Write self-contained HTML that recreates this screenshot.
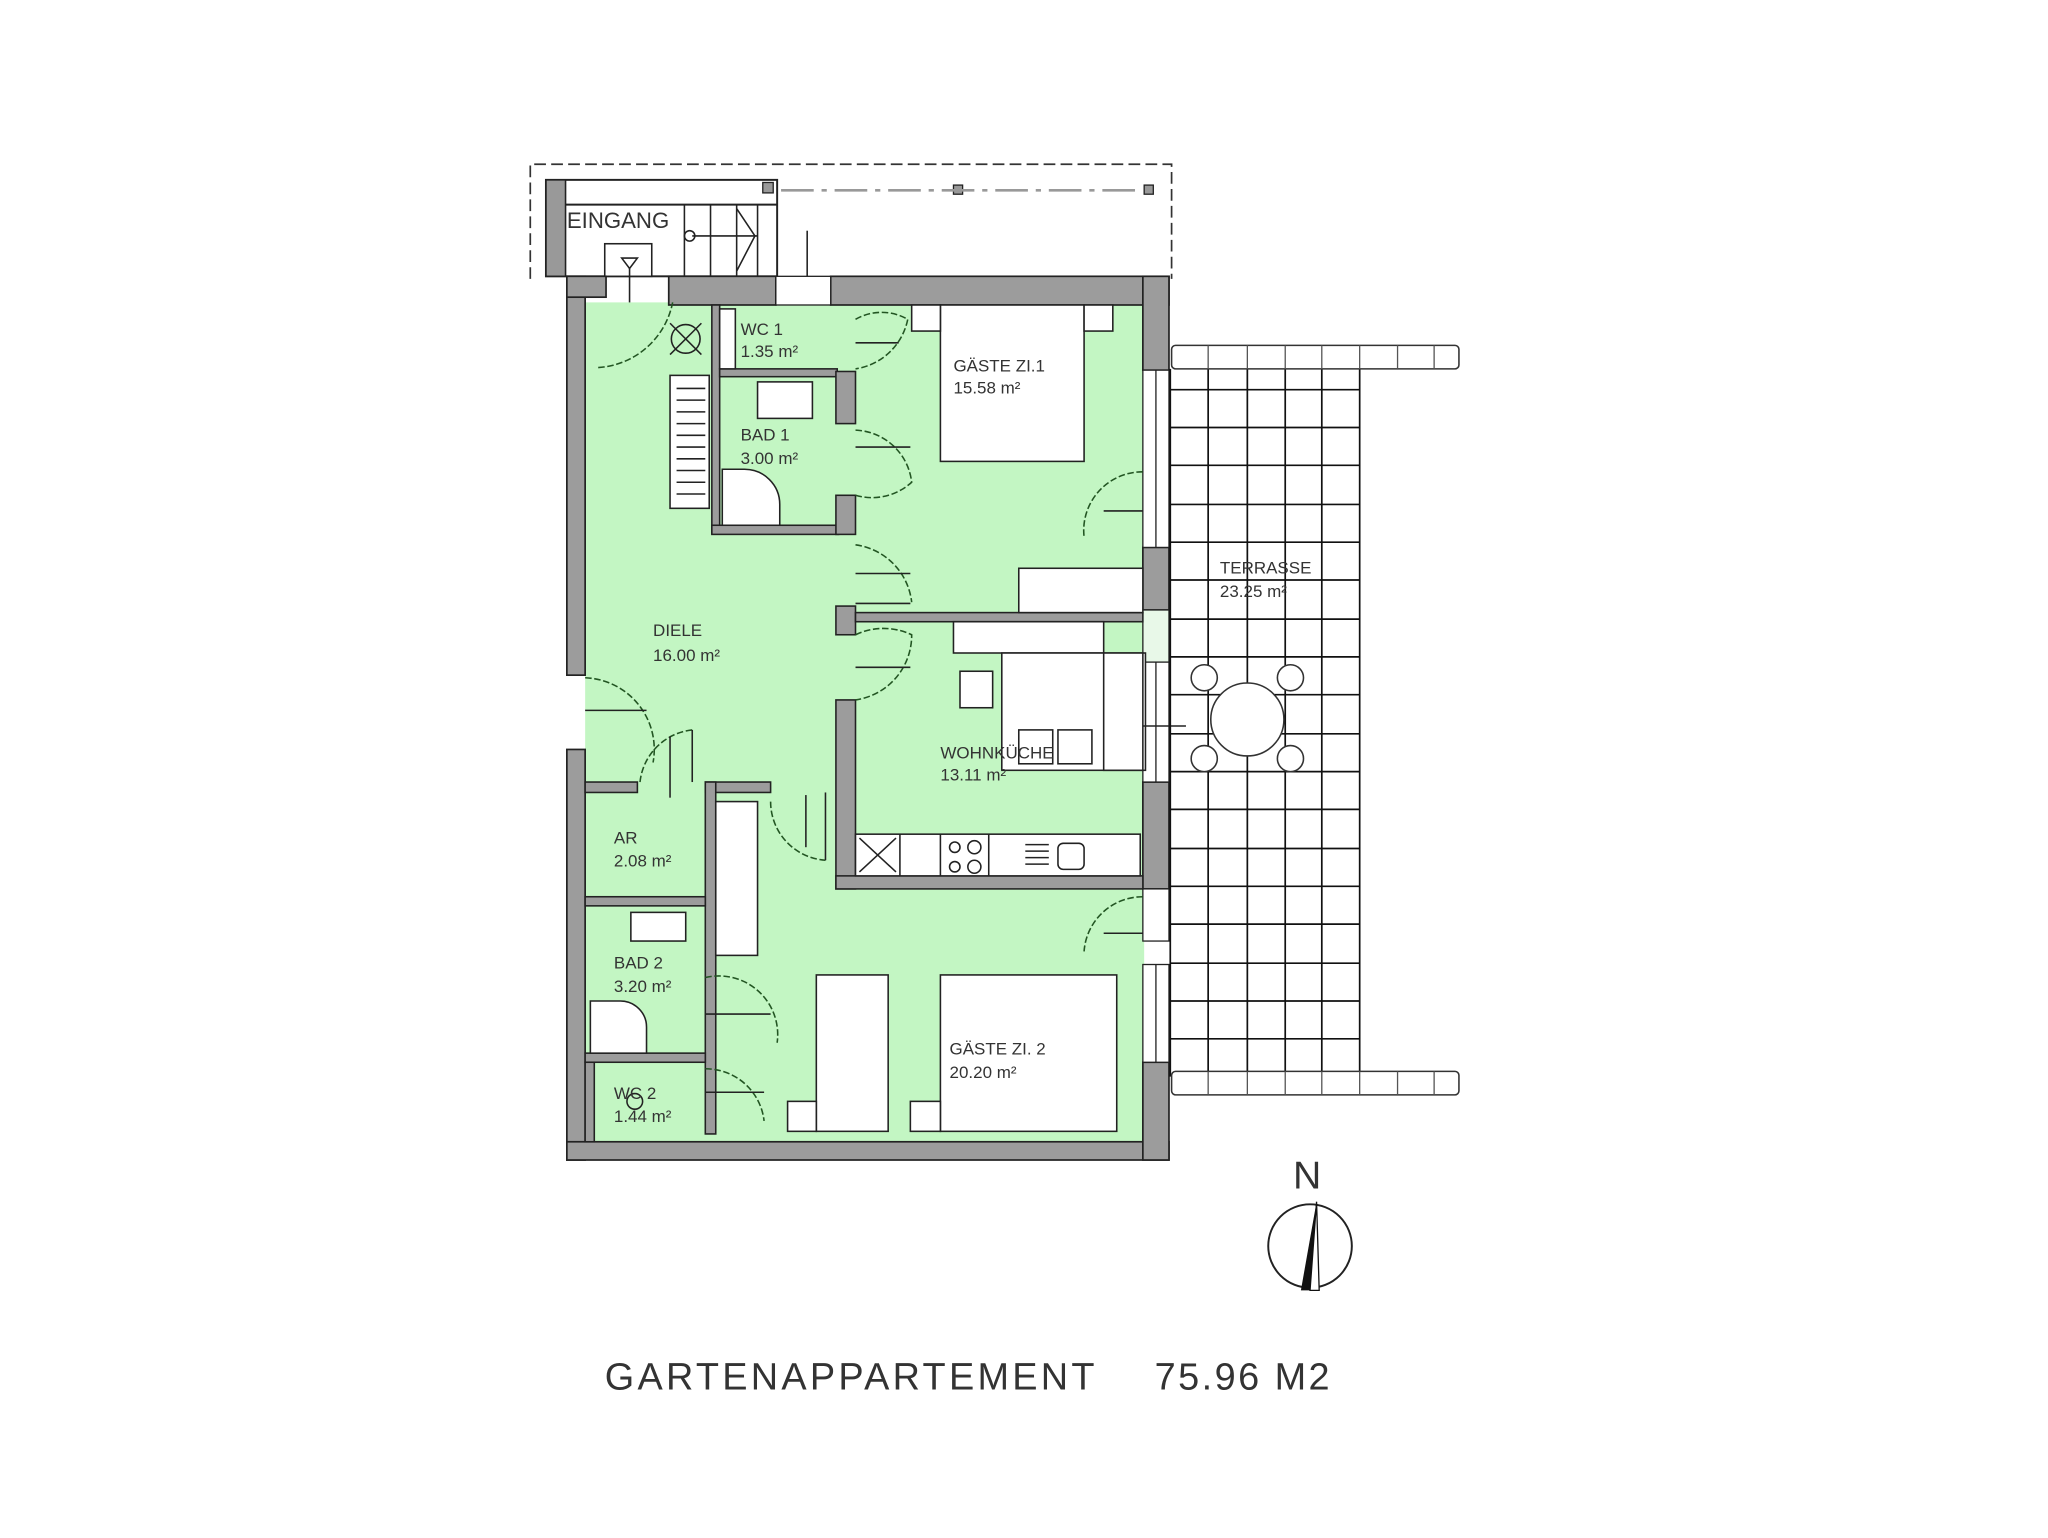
<!DOCTYPE html>
<html><head><meta charset="utf-8"><style>
html,body{margin:0;padding:0;background:#fff;}
svg{display:block;}
text{font-family:"Liberation Sans",sans-serif;fill:#333;}
</style></head><body>
<svg width="2048" height="1538" viewBox="0 0 1568 1180" preserveAspectRatio="none" xmlns="http://www.w3.org/2000/svg">
<rect width="1568" height="1180" fill="#fff"/>
<path d="M406,214 V126 H897 V214" fill="none" stroke="#333" stroke-width="1.3" stroke-dasharray="9,4"/>
<rect x="418" y="138" width="177" height="74" fill="#fff" stroke="#222" stroke-width="1.5"/>
<line x1="432" y1="157" x2="595" y2="157" stroke="#222" stroke-width="1.5"/>
<rect x="418" y="138" width="15" height="74" fill="#999" stroke="#222" stroke-width="1.2"/>
<rect x="584" y="140" width="8" height="8" fill="#999" stroke="#222"/>
<rect x="730" y="142" width="7" height="7" fill="#999" stroke="#222"/>
<rect x="876" y="142" width="7" height="7" fill="#999" stroke="#222"/>
<line x1="598" y1="146" x2="875" y2="146" stroke="#999" stroke-width="2" stroke-dasharray="25,6,4,6"/>
<g stroke="#222" stroke-width="1.2" fill="none">
<line x1="524" y1="157" x2="524" y2="212"/><line x1="544" y1="157" x2="544" y2="212"/>
<line x1="564" y1="157" x2="564" y2="212"/><line x1="580" y1="157" x2="580" y2="212"/>
<line x1="530" y1="181" x2="580" y2="181"/><path d="M564,160 L578,181 L564,208"/>
<circle cx="528" cy="181" r="4"/>
<rect x="463" y="187" width="36" height="25" fill="#fff"/>
<path d="M476,198 L488,198 L482,206 Z"/>
<line x1="482" y1="206" x2="482" y2="275"/>
<line x1="618" y1="177" x2="618" y2="245"/>
</g>
<rect x="448" y="232" width="428" height="645" fill="#c3f6c3"/>
<g fill="#9c9c9c" stroke="#222" stroke-width="1.3">
<rect x="434" y="212" width="14" height="306"/>
<rect x="434" y="575" width="14" height="315"/>
<rect x="434" y="876" width="461" height="14"/>
<rect x="512" y="212" width="82" height="22"/>
<rect x="636" y="212" width="259" height="22"/>
<rect x="875" y="212" width="20" height="72"/>
<rect x="875" y="420" width="20" height="48"/>
<rect x="875" y="600" width="20" height="82"/>
<rect x="875" y="815" width="20" height="75"/>
<rect x="434" y="212" width="30" height="16"/>
</g>
<g fill="#fff" stroke="#222" stroke-width="1">
<rect x="875" y="284" width="20" height="136"/>
<rect x="875" y="468" width="20" height="40" fill="#e8f8e8"/>
<rect x="875" y="508" width="20" height="92"/>
<rect x="875" y="682" width="20" height="40"/>
<rect x="875" y="740" width="20" height="75"/>
<rect x="594" y="212" width="42" height="22"/>
<line x1="885" y1="284" x2="885" y2="420"/><line x1="885" y1="508" x2="885" y2="600"/><line x1="885" y1="740" x2="885" y2="815"/>
</g>
<g fill="#9c9c9c" stroke="#222" stroke-width="1.2">
<rect x="545" y="234" width="6" height="175"/>
<rect x="545" y="403" width="97" height="7"/>
<rect x="551" y="283" width="90" height="6"/>
<rect x="640" y="285" width="15" height="40"/>
<rect x="640" y="380" width="15" height="30"/>
<rect x="640" y="465" width="15" height="22"/>
<rect x="655" y="470" width="220" height="7"/>
<rect x="640" y="537" width="15" height="145"/>
<rect x="640" y="672" width="235" height="10"/>
<rect x="448" y="600" width="40" height="8"/>
<rect x="540" y="600" width="50" height="8"/>
<rect x="540" y="600" width="8" height="270"/>
<rect x="448" y="688" width="92" height="7"/>
<rect x="448" y="808" width="92" height="7"/>
<rect x="448" y="815" width="7" height="61"/>
</g>
<g fill="#fff" stroke="#222" stroke-width="1.2">
<rect x="551" y="237" width="12" height="46"/>
<rect x="513" y="288" width="30" height="102"/>
<rect x="580" y="293" width="42" height="28"/>
<path d="M553,360 H570 A27,27 0 0 1 597,387 V403 H553 Z"/>
<rect x="720" y="234" width="110" height="120"/>
<rect x="698" y="234" width="22" height="20"/><rect x="830" y="234" width="22" height="20"/>
<rect x="780" y="436" width="95" height="34"/>
<rect x="730" y="477" width="115" height="24"/>
<rect x="767" y="501" width="110" height="90"/>
<rect x="845" y="501" width="30" height="90"/>
<rect x="735" y="515" width="25" height="28"/>
<rect x="780" y="560" width="26" height="26"/><rect x="810" y="560" width="26" height="26"/>
<rect x="655" y="640" width="218" height="32"/>
<rect x="548" y="615" width="32" height="118"/>
<rect x="483" y="700" width="42" height="22"/>
<path d="M452,768 H475 A20,20 0 0 1 495,788 V808 H452 Z"/>
<rect x="625" y="748" width="55" height="120"/>
<rect x="720" y="748" width="135" height="120"/>
<rect x="603" y="845" width="22" height="23"/><rect x="697" y="845" width="23" height="23"/>
</g>
<g stroke="#222" stroke-width="1.2" fill="none">
<line x1="518" y1="298" x2="540" y2="298"/><line x1="518" y1="307" x2="540" y2="307"/><line x1="518" y1="316" x2="540" y2="316"/><line x1="518" y1="325" x2="540" y2="325"/><line x1="518" y1="334" x2="540" y2="334"/><line x1="518" y1="343" x2="540" y2="343"/><line x1="518" y1="352" x2="540" y2="352"/><line x1="518" y1="361" x2="540" y2="361"/><line x1="518" y1="370" x2="540" y2="370"/><line x1="518" y1="379" x2="540" y2="379"/>
<line x1="689" y1="640" x2="689" y2="672"/><line x1="658" y1="643" x2="686" y2="669"/><line x1="686" y1="643" x2="658" y2="669"/>
<line x1="720" y1="640" x2="720" y2="672"/><line x1="757" y1="640" x2="757" y2="672"/>
<circle cx="731" cy="650" r="4"/><circle cx="746" cy="650" r="5"/><circle cx="731" cy="665" r="4"/><circle cx="746" cy="665" r="5"/>
<line x1="785" y1="648" x2="803" y2="648"/><line x1="785" y1="653" x2="803" y2="653"/><line x1="785" y1="658" x2="803" y2="658"/><line x1="785" y1="663" x2="803" y2="663"/>
<rect x="810" y="647" width="20" height="20" rx="4"/>
<circle cx="525" cy="260" r="11"/><line x1="513" y1="248" x2="537" y2="272"/><line x1="537" y1="248" x2="513" y2="272"/>
<circle cx="486" cy="845" r="6"/>
</g>
<g stroke="#225522" stroke-width="1.2" fill="none" stroke-dasharray="5,2">
<path d="M458,282 A62,62 0 0 0 515,232"/>
<path d="M655,245 A40,40 0 0 1 695,245 A48,48 0 0 1 655,283"/>
<path d="M655,330 A45,45 0 0 1 698,370 A45,45 0 0 1 655,380"/>
<path d="M655,418 A50,50 0 0 1 698,462"/>
<path d="M655,487 A50,50 0 0 1 698,487 A50,50 0 0 1 655,537"/>
<path d="M448,520 A55,55 0 0 1 500,585"/>
<path d="M490,600 A45,45 0 0 1 530,560"/>
<path d="M590,615 A45,45 0 0 0 632,660"/>
<path d="M875,362 A45,45 0 0 0 830,412"/>
<path d="M875,688 A45,45 0 0 0 830,730"/>
<path d="M540,750 A45,45 0 0 1 595,800"/>
<path d="M540,820 A45,45 0 0 1 585,860"/>
</g>
<g stroke="#222" stroke-width="1.2">
<line x1="655" y1="263" x2="688" y2="263"/><line x1="655" y1="343" x2="697" y2="343"/>
<line x1="655" y1="440" x2="697" y2="440"/><line x1="655" y1="463" x2="697" y2="463"/><line x1="655" y1="512" x2="697" y2="512"/>
<line x1="448" y1="545" x2="495" y2="545"/><line x1="513" y1="565" x2="513" y2="612"/><line x1="530" y1="560" x2="530" y2="600"/>
<line x1="617" y1="610" x2="617" y2="650"/><line x1="632" y1="608" x2="632" y2="660"/>
<line x1="845" y1="392" x2="875" y2="392"/><line x1="845" y1="716" x2="875" y2="716"/>
<line x1="540" y1="778" x2="590" y2="778"/><line x1="540" y1="838" x2="585" y2="838"/>
<line x1="875" y1="557" x2="908" y2="557"/>
</g>
<g stroke="#111" stroke-width="1.3" fill="none">
<line x1="896" y1="283" x2="896" y2="826"/><line x1="925" y1="283" x2="925" y2="826"/><line x1="955" y1="283" x2="955" y2="826"/><line x1="984" y1="283" x2="984" y2="826"/><line x1="1012" y1="283" x2="1012" y2="826"/><line x1="1041" y1="283" x2="1041" y2="826"/>
<line x1="896" y1="299" x2="1041" y2="299"/><line x1="896" y1="328" x2="1041" y2="328"/><line x1="896" y1="357" x2="1041" y2="357"/><line x1="896" y1="387" x2="1041" y2="387"/><line x1="896" y1="416" x2="1041" y2="416"/><line x1="896" y1="445" x2="1041" y2="445"/><line x1="896" y1="475" x2="1041" y2="475"/><line x1="896" y1="504" x2="1041" y2="504"/><line x1="896" y1="533" x2="1041" y2="533"/><line x1="896" y1="563" x2="1041" y2="563"/><line x1="896" y1="592" x2="1041" y2="592"/><line x1="896" y1="621" x2="1041" y2="621"/><line x1="896" y1="651" x2="1041" y2="651"/><line x1="896" y1="680" x2="1041" y2="680"/><line x1="896" y1="709" x2="1041" y2="709"/><line x1="896" y1="739" x2="1041" y2="739"/><line x1="896" y1="768" x2="1041" y2="768"/><line x1="896" y1="797" x2="1041" y2="797"/>
</g>
<g fill="#fff" stroke="#333" stroke-width="1.2">
<rect x="897" y="265" width="220" height="18" rx="3"/>
<rect x="897" y="822" width="220" height="18" rx="3"/>
<circle cx="955" cy="552" r="28"/>
<circle cx="922" cy="520" r="10"/><circle cx="988" cy="520" r="10"/><circle cx="922" cy="582" r="10"/><circle cx="988" cy="582" r="10"/>
</g>
<g stroke="#555" stroke-width="1">
<line x1="925" y1="265" x2="925" y2="283"/><line x1="955" y1="265" x2="955" y2="283"/><line x1="984" y1="265" x2="984" y2="283"/><line x1="1012" y1="265" x2="1012" y2="283"/><line x1="1041" y1="265" x2="1041" y2="283"/><line x1="1070" y1="265" x2="1070" y2="283"/><line x1="1098" y1="265" x2="1098" y2="283"/>
<line x1="925" y1="822" x2="925" y2="840"/><line x1="955" y1="822" x2="955" y2="840"/><line x1="984" y1="822" x2="984" y2="840"/><line x1="1012" y1="822" x2="1012" y2="840"/><line x1="1041" y1="822" x2="1041" y2="840"/><line x1="1070" y1="822" x2="1070" y2="840"/><line x1="1098" y1="822" x2="1098" y2="840"/>
</g>
<g font-size="13">
<text x="434" y="175" font-size="17">EINGANG</text>
<text x="567" y="257">WC 1</text><text x="567" y="274">1.35 m²</text>
<text x="567" y="338">BAD 1</text><text x="567" y="356">3.00 m²</text>
<text x="730" y="285">GÄSTE ZI.1</text><text x="730" y="302">15.58 m²</text>
<text x="500" y="488">DIELE</text><text x="500" y="507">16.00 m²</text>
<text x="720" y="582">WOHNKÜCHE</text><text x="720" y="599">13.11 m²</text>
<text x="934" y="440">TERRASSE</text><text x="934" y="458">23.25 m²</text>
<text x="470" y="647">AR</text><text x="470" y="665">2.08 m²</text>
<text x="470" y="743">BAD 2</text><text x="470" y="761">3.20 m²</text>
<text x="470" y="843">WC 2</text><text x="470" y="861">1.44 m²</text>
<text x="727" y="809">GÄSTE ZI. 2</text><text x="727" y="827">20.20 m²</text>
</g>
<text x="990" y="912" font-size="30" fill="#111">N</text>
<circle cx="1003" cy="956" r="32" fill="none" stroke="#222" stroke-width="1.5"/>
<path d="M1008,922 L996,990 L1003,990 Z" fill="#111"/>
<path d="M1008,922 L1010,990 L1003,990 Z" fill="#fff" stroke="#111"/>
<text x="463" y="1066" font-size="29" fill="#222" textLength="375" lengthAdjust="spacing">GARTENAPPARTEMENT</text>
<text x="884" y="1066" font-size="29" fill="#222" textLength="134" lengthAdjust="spacing">75.96 M2</text>
</svg>
</body></html>
